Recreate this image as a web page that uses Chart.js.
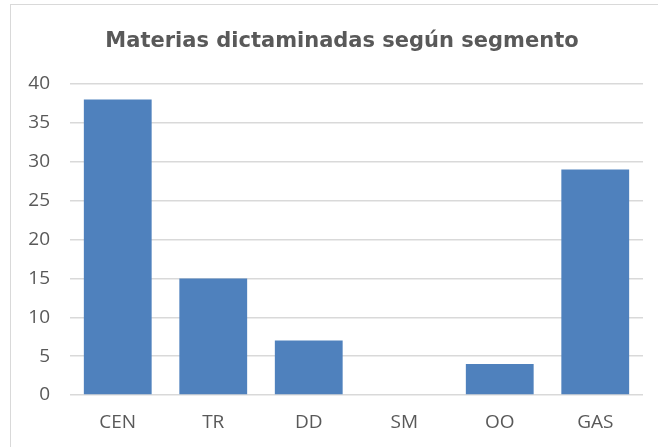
<!DOCTYPE html>
<html>
<head>
<meta charset="utf-8">
<script src="https://cdn.jsdelivr.net/npm/chart.js@4"></script>
<style>
  html, body { margin: 0; padding: 0; background: #fff; }
  #wrap { position: relative; width: 658px; height: 447px; }
  #frame { position: absolute; left: 10px; top: 4px; width: 660px; height: 460px;
           border-left: 1.5px solid #d9d9d9; border-top: 1.5px solid #d9d9d9; }
  canvas { position: absolute; left: 0; top: 0; }
</style>
</head>
<body>
<div id="wrap">
  <div id="frame"></div>
  <canvas id="chart" width="658" height="447"></canvas>
</div>
<script>
const categories = ["CEN", "TR", "DD", "SM", "OO", "GAS"];
const materias = [38, 15, 7, 0, 4, 29];
const chartTitle = "Materias dictaminadas según segmento";

const ctx = document.querySelector("#chart");

// the title in the original is centred a bit left of the plot, so draw it by hand
const titlePlugin = {
  id: "offsetTitle",
  afterDraw(chart) {
    const c = chart.ctx;
    c.save();
    c.font = "bold 21px 'DejaVu Sans'";
    c.fillStyle = "#595959";
    c.textAlign = "center";
    c.textBaseline = "middle";
    c.fillText(chartTitle, 342, 42);
    c.restore();
  },
};

new Chart(ctx, {
  type: "bar",
  data: {
    labels: categories,
    datasets: [
      {
        label: "Materias",
        data: materias,
        backgroundColor: "#4f81bd",
        borderWidth: 0,
        barPercentage: 0.71,
        categoryPercentage: 1,
      },
    ],
  },
  options: {
    responsive: false,
    animation: false,
    layout: { padding: { left: 0, right: 15, top: 84, bottom: 0 } },
    plugins: {
      legend: { display: false },
      tooltip: { enabled: false },
      title: { display: false },
    },
    scales: {
      x: {
        grid: { display: false, drawTicks: false },
        border: { display: false },
        ticks: {
          color: "#595959",
          font: { family: "'Open Sans'", size: 19 },
          padding: 16,
        },
        afterFit: (scale) => {
          scale.height = 52;
        },
      },
      y: {
        min: 0,
        max: 40,
        ticks: {
          stepSize: 5,
          color: "#595959",
          font: { family: "'Open Sans'", size: 19 },
          padding: 20,
        },
        grid: { color: "#d9d9d9", lineWidth: 1.5, drawTicks: false },
        border: { display: false },
        afterFit: (scale) => {
          scale.width = 70;
        },
      },
    },
  },
  plugins: [titlePlugin],
});
</script>
</body>
</html>
